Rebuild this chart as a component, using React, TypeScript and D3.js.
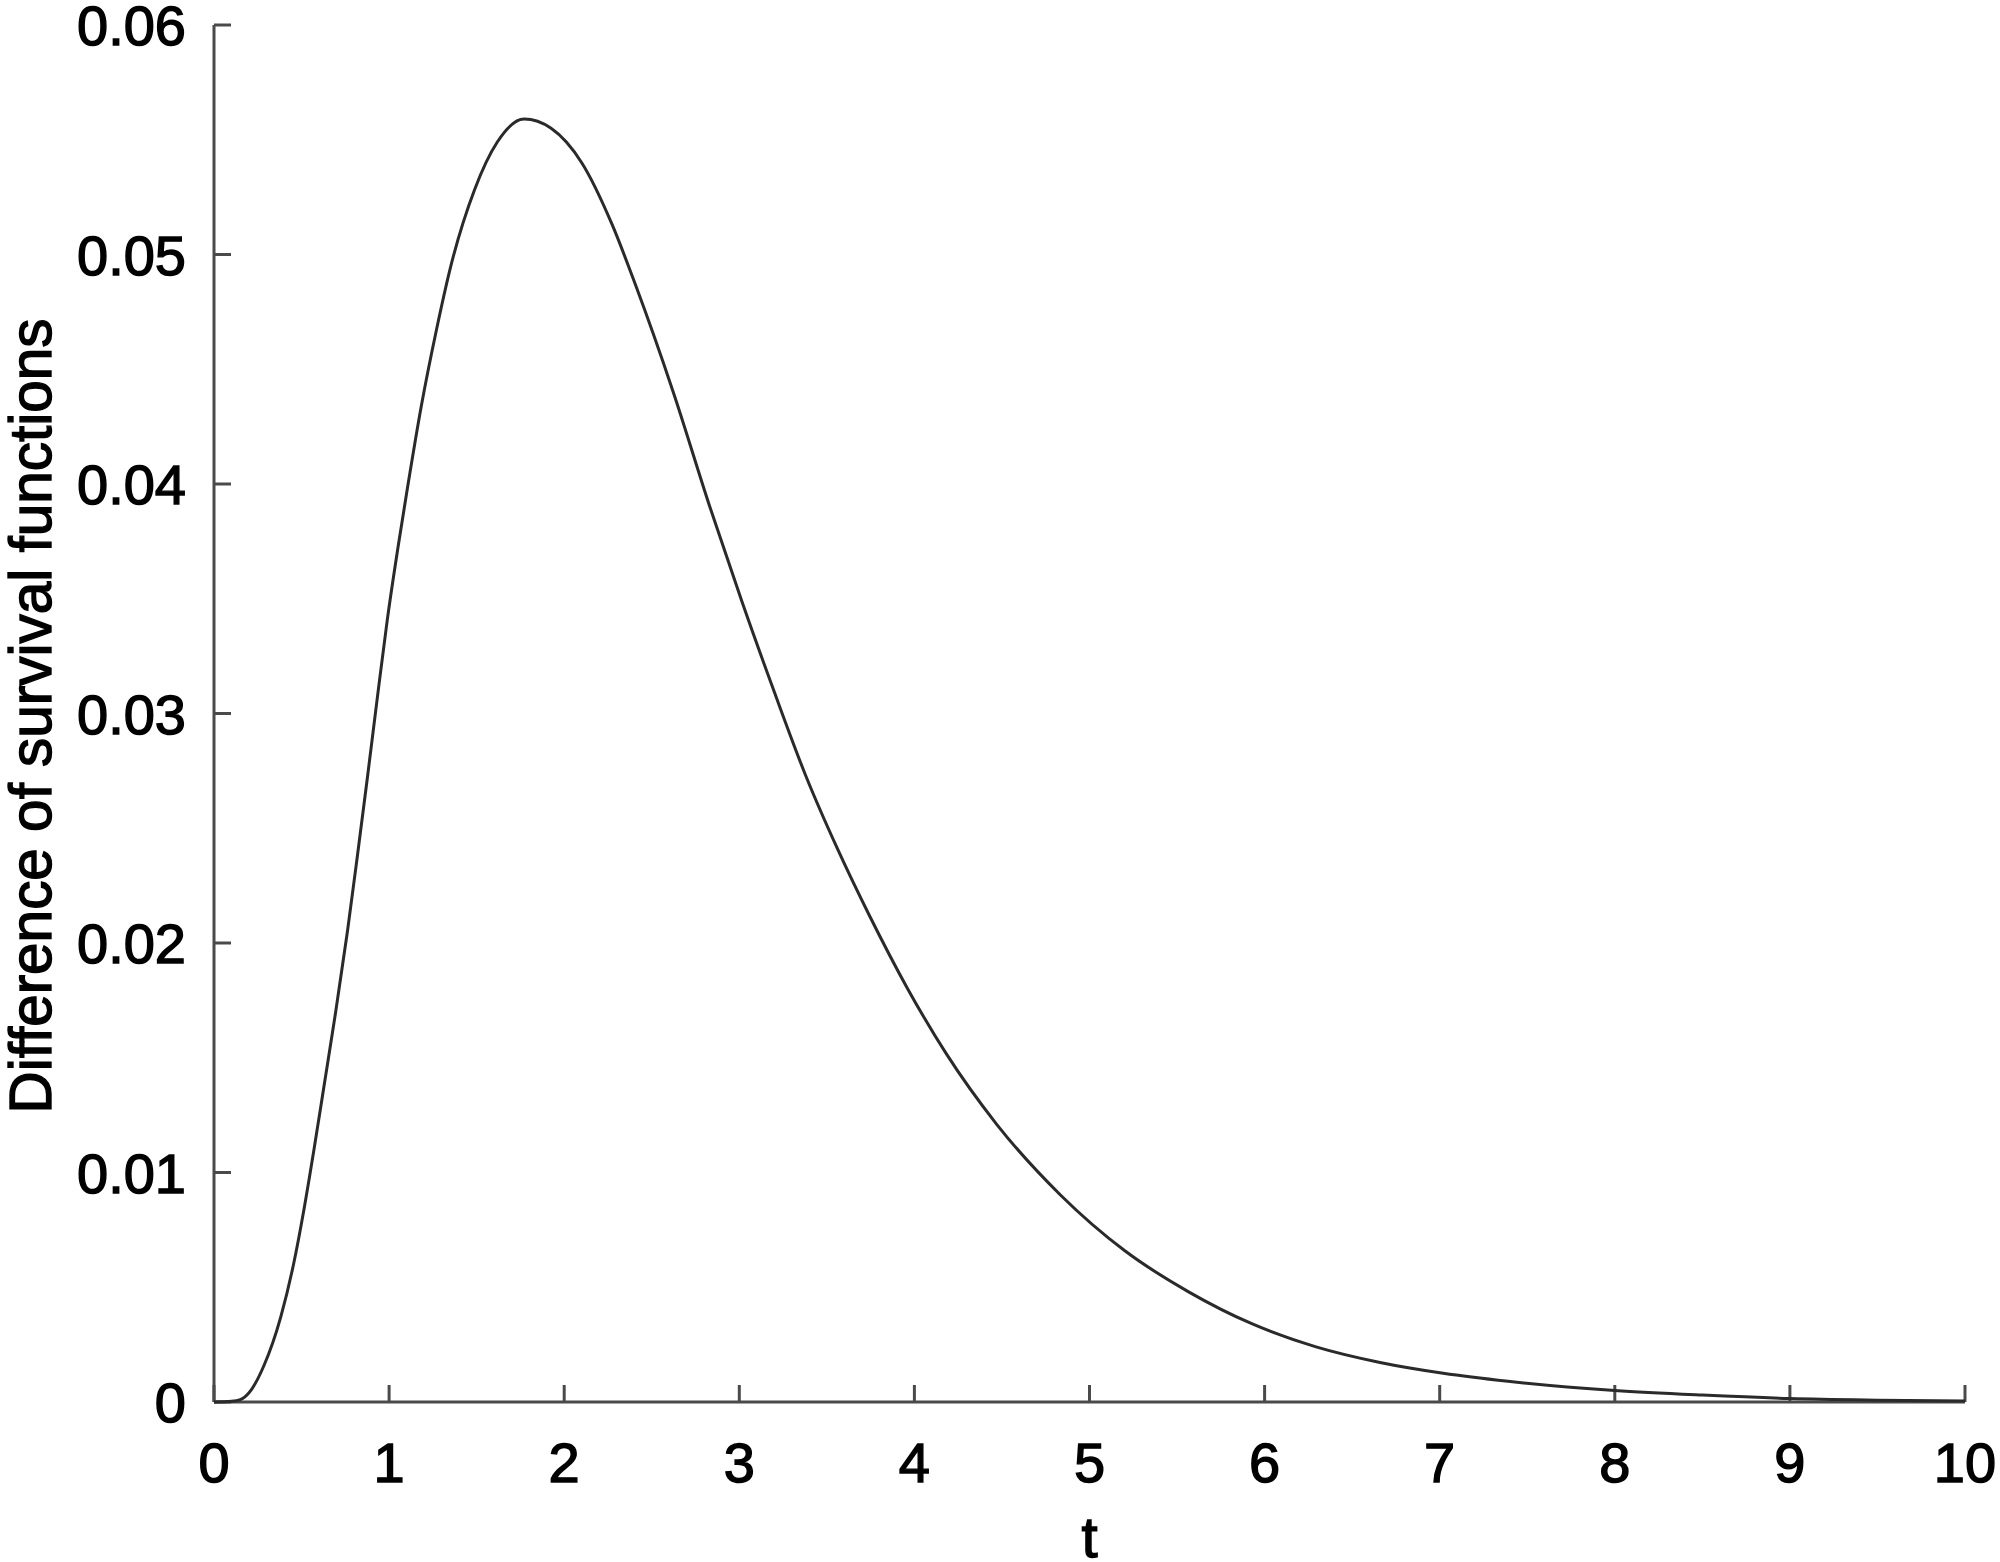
import React from "react";
import * as d3 from "d3";

const tValues = [0, 0.1, 0.15, 0.2, 0.286, 0.381, 0.457, 0.514, 0.571, 0.629, 0.695, 0.762, 0.819, 0.876, 0.933, 0.99, 1.05, 1.1, 1.184, 1.27, 1.356, 1.487, 1.618, 1.771, 1.925, 2.1, 2.274, 2.406, 2.623, 2.832, 3.014, 3.197, 3.379, 3.561, 3.743, 3.962, 4.18, 4.47, 4.837, 5.2, 5.566, 5.93, 6.294, 6.659, 7.02, 7.39, 8.0, 8.5, 9.0, 9.5, 10];
const diffValues = [0, 0.00003, 0.0001, 0.0004, 0.0016, 0.0037, 0.0061, 0.0084, 0.011, 0.0138, 0.017, 0.0205, 0.0238, 0.0272, 0.0307, 0.0341, 0.0372, 0.0396, 0.0434, 0.0467, 0.0496, 0.0528, 0.0549, 0.0559, 0.0555, 0.054, 0.0513, 0.0487, 0.044, 0.039, 0.0349, 0.031, 0.0273, 0.0241, 0.0212, 0.018, 0.0152, 0.0121, 0.009, 0.0066, 0.0048, 0.0034, 0.0024, 0.00172, 0.00125, 0.0009, 0.0005, 0.0003, 0.00015, 0.00008, 0.00004];
const xTicks = [0, 1, 2, 3, 4, 5, 6, 7, 8, 9, 10];
const yTicks = [0, 0.01, 0.02, 0.03, 0.04, 0.05, 0.06];
const yTickLabels = ["0", "0.01", "0.02", "0.03", "0.04", "0.05", "0.06"];
const xAxisTitle = "t";
const yAxisTitle = "Difference of survival functions";

const W = 2000;
const H = 1562;
const FONT = "'Liberation Sans', Arial, Helvetica, sans-serif";

export default function App() {
  const x = d3.scaleLinear().domain([0, 10]).range([214, 1965]);
  const y = d3.scaleLinear().domain([0, 0.06]).range([1402, 25]);
  const pts: [number, number][] = tValues.map((t, i) => [t, diffValues[i]]);
  const line = d3
    .line<[number, number]>()
    .x((d) => x(d[0]))
    .y((d) => y(d[1]))
    .curve(d3.curveMonotoneX);
  const axisColor = "#4a4a4a";
  const tickLen = 17;
  const textStroke = { stroke: "#000", strokeWidth: 1.4 };
  return (
    <svg
      width={W}
      height={H}
      style={{ position: "absolute", left: 0, top: 0, background: "#fff" }}
      fontFamily={FONT}
    >
      <rect x={0} y={0} width={W} height={H} fill="#fff" />
      <line x1={x(0)} x2={x(0)} y1={y(0.06)} y2={y(0)} stroke={axisColor} strokeWidth={3} />
      <line x1={x(0)} x2={x(10)} y1={y(0)} y2={y(0)} stroke={axisColor} strokeWidth={3} />
      {yTicks.map((v, i) => (
        <g key={"y" + i}>
          <line x1={x(0)} x2={x(0) + tickLen} y1={y(v)} y2={y(v)} stroke={axisColor} strokeWidth={3} />
          <text x={186} y={y(v)} dy="0.36em" textAnchor="end" fontSize={56} fill="#000" {...textStroke}>
            {yTickLabels[i]}
          </text>
        </g>
      ))}
      {xTicks.map((t, i) => (
        <g key={"x" + i}>
          <line x1={x(t)} x2={x(t)} y1={y(0)} y2={y(0) - tickLen} stroke={axisColor} strokeWidth={3} />
          <text x={x(t)} y={1482} textAnchor="middle" fontSize={56} fill="#000" {...textStroke}>
            {String(t)}
          </text>
        </g>
      ))}
      <path d={line(pts) || ""} fill="none" stroke="#2a2a2a" strokeWidth={3} />
      <text x={x(5)} y={1557} textAnchor="middle" fontSize={58} fill="#000" {...textStroke}>
        {xAxisTitle}
      </text>
      <text
        transform={`translate(51, 716) rotate(-90)`}
        textAnchor="middle"
        fontSize={60}
        textLength={795}
        lengthAdjust="spacingAndGlyphs"
        fill="#000"
        {...textStroke}
      >
        {yAxisTitle}
      </text>
    </svg>
  );
}
